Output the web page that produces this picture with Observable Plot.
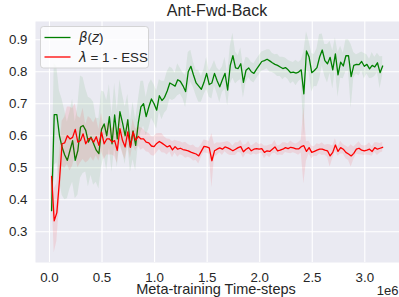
<!DOCTYPE html>
<html><head><meta charset="utf-8">
<script src="https://cdn.jsdelivr.net/npm/d3@7"></script>
<script src="https://cdn.jsdelivr.net/npm/@observablehq/plot@0.6"></script>
<style>body{margin:0;background:#fff} svg{display:block}</style>
</head><body><div id="chart"></div>
<script>
// Meta-training time-steps (in units of 1e6)
const timesteps = [
0.020,0.045,0.070,0.095,0.120,0.145,0.170,0.195,0.220,0.245,
0.270,0.295,0.320,0.345,0.370,0.395,0.420,0.445,0.470,0.495,
0.520,0.545,0.570,0.595,0.620,0.645,0.670,0.695,0.720,0.745,
0.770,0.795,0.820,0.845,0.870,0.895,0.920,0.945,0.970,0.995,
1.020,1.045,1.070,1.095,1.120,1.145,1.170,1.195,1.220,1.245,
1.270,1.295,1.320,1.345,1.370,1.395,1.420,1.445,1.470,1.495,
1.520,1.545,1.570,1.595,1.620,1.645,1.670,1.695,1.720,1.745,
1.770,1.795,1.820,1.845,1.870,1.895,1.920,1.945,1.970,1.995,
2.020,2.045,2.070,2.095,2.120,2.145,2.170,2.195,2.220,2.245,
2.270,2.295,2.320,2.345,2.370,2.395,2.420,2.445,2.470,2.495,
2.520,2.545,2.570,2.595,2.620,2.645,2.670,2.695,2.720,2.745,
2.770,2.795,2.820,2.845,2.870,2.895,2.920,2.945,2.970,2.995,
3.020,3.045,3.070,3.095,3.120,3.145,3.170];

const betaMean = [
0.366,0.666,0.666,0.600,0.564,0.540,0.523,0.554,0.585,0.523,
0.554,0.627,0.632,0.617,0.580,0.596,0.575,0.555,0.544,0.620,
0.637,0.600,0.660,0.575,0.665,0.590,0.675,0.640,0.600,0.650,
0.565,0.615,0.570,0.640,0.690,0.700,0.660,0.690,0.715,0.700,
0.680,0.725,0.710,0.720,0.740,0.765,0.760,0.755,0.775,0.770,
0.756,0.738,0.800,0.817,0.790,0.765,0.755,0.745,0.767,0.795,
0.760,0.765,0.795,0.772,0.753,0.775,0.795,0.743,0.820,0.850,
0.812,0.810,0.825,0.767,0.805,0.812,0.800,0.795,0.808,0.820,
0.832,0.835,0.839,0.834,0.828,0.823,0.820,0.815,0.810,0.813,
0.806,0.797,0.799,0.796,0.799,0.806,0.731,0.865,0.846,0.797,
0.804,0.813,0.846,0.868,0.835,0.825,0.845,0.806,0.856,0.790,
0.830,0.818,0.850,0.850,0.785,0.820,0.823,0.822,0.832,0.817,
0.823,0.809,0.820,0.815,0.828,0.797,0.818];

const betaSpread = [
0.04,0.16,0.15,0.14,0.15,0.14,0.12,0.12,0.13,0.12,
0.14,0.16,0.15,0.13,0.14,0.12,0.13,0.10,0.11,0.12,
0.10,0.11,0.10,0.09,0.10,0.09,0.10,0.09,0.09,0.08,
0.08,0.09,0.08,0.07,0.08,0.07,0.06,0.07,0.06,0.06,
0.06,0.05,0.06,0.05,0.06,0.05,0.05,0.04,0.05,0.04,
0.04,0.05,0.06,0.05,0.04,0.04,0.05,0.04,0.04,0.05,
0.04,0.05,0.04,0.04,0.05,0.04,0.05,0.05,0.06,0.07,
0.05,0.04,0.05,0.05,0.04,0.03,0.03,0.03,0.03,0.03,
0.03,0.03,0.03,0.035,0.03,0.03,0.035,0.03,0.035,0.03,
0.03,0.035,0.03,0.04,0.03,0.03,0.13,0.06,0.05,0.06,
0.05,0.06,0.07,0.05,0.05,0.06,0.05,0.06,0.05,0.07,
0.05,0.04,0.05,0.05,0.10,0.04,0.03,0.035,0.03,0.04,
0.03,0.03,0.04,0.03,0.03,0.05,0.03];

const lambdaMean = [
0.473,0.334,0.360,0.460,0.575,0.578,0.600,0.590,0.595,0.620,
0.580,0.585,0.606,0.575,0.590,0.593,0.580,0.597,0.570,0.611,
0.575,0.590,0.590,0.580,0.585,0.554,0.622,0.585,0.565,0.612,
0.564,0.612,0.586,0.598,0.590,0.590,0.580,0.578,0.568,0.566,
0.576,0.582,0.577,0.571,0.565,0.569,0.556,0.566,0.558,0.561,
0.557,0.555,0.553,0.549,0.546,0.543,0.537,0.552,0.567,0.565,
0.562,0.522,0.553,0.558,0.562,0.558,0.565,0.562,0.558,0.553,
0.558,0.563,0.566,0.550,0.558,0.563,0.553,0.558,0.560,0.558,
0.560,0.548,0.553,0.551,0.558,0.565,0.553,0.555,0.558,0.563,
0.560,0.564,0.562,0.559,0.559,0.566,0.569,0.551,0.563,0.548,
0.551,0.555,0.558,0.558,0.555,0.553,0.537,0.548,0.571,0.551,
0.563,0.558,0.548,0.543,0.537,0.545,0.558,0.561,0.555,0.553,
0.555,0.558,0.551,0.563,0.558,0.561,0.564];

const lambdaSpread = [
0.03,0.10,0.09,0.08,0.07,0.08,0.09,0.10,0.09,0.08,
0.08,0.07,0.08,0.06,0.07,0.06,0.06,0.06,0.05,0.06,
0.05,0.05,0.05,0.04,0.05,0.04,0.05,0.04,0.04,0.04,
0.035,0.04,0.035,0.03,0.035,0.03,0.03,0.03,0.03,0.03,
0.03,0.025,0.03,0.025,0.025,0.02,0.025,0.02,0.025,0.02,
0.02,0.025,0.02,0.02,0.025,0.02,0.025,0.02,0.02,0.02,
0.02,0.085,0.02,0.02,0.015,0.02,0.015,0.02,0.02,0.015,
0.02,0.015,0.02,0.02,0.015,0.02,0.015,0.015,0.02,0.015,
0.015,0.02,0.015,0.02,0.015,0.02,0.015,0.015,0.02,0.015,
0.015,0.02,0.015,0.015,0.02,0.02,0.12,0.03,0.02,0.02,
0.015,0.02,0.015,0.02,0.015,0.02,0.035,0.02,0.02,0.015,
0.02,0.015,0.02,0.02,0.035,0.02,0.015,0.02,0.015,0.015,
0.015,0.02,0.015,0.015,0.02,0.015,0.015];

const xTicks = [0.0, 0.5, 1.0, 1.5, 2.0, 2.5, 3.0];
const yTicks = [0.3, 0.4, 0.5, 0.6, 0.7, 0.8, 0.9];
const titleText = "Ant-Fwd-Back";
const xLabelText = "Meta-training Time-steps";
const offsetText = "1e6";
const seriesColors = ["green", "red"];

const rows = timesteps.map((t, i) => ({
  t,
  beta: betaMean[i], bLo: betaMean[i] - betaSpread[i], bHi: betaMean[i] + betaSpread[i],
  lam: lambdaMean[i], lLo: lambdaMean[i] - lambdaSpread[i], lHi: lambdaMean[i] + lambdaSpread[i]
}));

const FONT = "'Liberation Sans', Arial, sans-serif";
const ink = "#262626";

const chart = Plot.plot({
  width: 399, height: 297,
  marginLeft: 35, marginRight: 0, marginTop: 21, marginBottom: 35,
  style: {fontFamily: FONT, fontSize: "13.3px", color: ink, background: "white", overflow: "visible"},
  x: {domain: [-0.133, 3.33]},
  y: {domain: [0.204, 0.957]},
  marks: [
    Plot.frame({fill: "#EAEAF2", stroke: "none"}),
    Plot.gridX(xTicks, {stroke: "white", strokeOpacity: 1, strokeWidth: 1.1}),
    Plot.gridY(yTicks, {stroke: "white", strokeOpacity: 1, strokeWidth: 1.1}),
    Plot.areaY(rows, {x: "t", y1: "bLo", y2: "bHi", fill: seriesColors[0], fillOpacity: 0.08}),
    Plot.lineY(rows, {x: "t", y: "beta", stroke: seriesColors[0], strokeWidth: 1.3}),
    Plot.areaY(rows, {x: "t", y1: "lLo", y2: "lHi", fill: seriesColors[1], fillOpacity: 0.09}),
    Plot.lineY(rows, {x: "t", y: "lam", stroke: seriesColors[1], strokeWidth: 1.3}),
    Plot.axisX({ticks: xTicks, tickFormat: d3.format(".1f"), tickSize: 0, tickPadding: 10.5, label: null}),
    Plot.axisY({ticks: yTicks, tickFormat: d3.format(".1f"), tickSize: 0, tickPadding: 8, label: null})
  ]
});

document.getElementById("chart").appendChild(chart);

const svg = d3.select(chart);
// Title
svg.append("text").attr("x", 217).attr("y", 16.3).attr("text-anchor", "middle")
  .attr("font-family", FONT).attr("font-size", 16).attr("fill", ink).text(titleText);
// X label
svg.append("text").attr("x", 216).attr("y", 294).attr("text-anchor", "middle")
  .attr("font-family", FONT).attr("font-size", 14.5).attr("fill", ink).text(xLabelText);
// Offset text
svg.append("text").attr("x", 398.5).attr("y", 294.5).attr("text-anchor", "end")
  .attr("font-family", FONT).attr("font-size", 13).attr("fill", ink).text(offsetText);

// Legend
const lg = svg.append("g");
lg.append("rect").attr("x", 40.5).attr("y", 26.5).attr("width", 108).attr("height", 41.5)
  .attr("rx", 3).attr("fill", "white").attr("fill-opacity", 0.8)
  .attr("stroke", "#cccccc").attr("stroke-opacity", 0.8);
const entries = [
  {color: seriesColors[0], y: 37.5, parts: [["β", true], ["(", false], ["z", true], [")", false]]},
  {color: seriesColors[1], y: 57, parts: [["λ", true], [" = 1 - ESS", false]]}
];
for (const e of entries) {
  lg.append("line").attr("x1", 44.5).attr("x2", 70.5).attr("y1", e.y).attr("y2", e.y)
    .attr("stroke", e.color).attr("stroke-width", 1.3);
  const tx = lg.append("text").attr("x", 79).attr("y", e.y + 4.6).attr("text-anchor", "start")
    .attr("font-family", FONT).attr("font-size", 13.3).attr("fill", ink)
    .style("white-space", "pre");
  for (const [s, it] of e.parts) {
    const ts = tx.append("tspan").text(s);
    if (it) ts.attr("font-style", "italic").attr("font-family", "'DejaVu Sans', sans-serif");
  }
}
</script>
</body></html>
